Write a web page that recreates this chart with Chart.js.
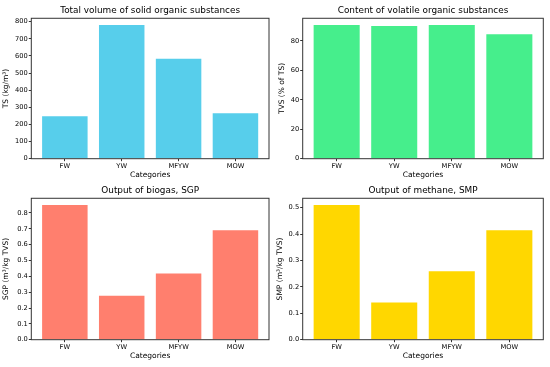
<!DOCTYPE html>
<html>
<head>
<meta charset="utf-8">
<script src="https://cdn.jsdelivr.net/npm/chart.js@4"></script>
<style>
body { margin: 0; background: #fff; }
#wrap { position: relative; width: 550px; height: 367px; overflow: hidden; }
canvas { position: absolute; }
</style>
</head>
<body>
<div id="wrap">
  <canvas id="c1" width="275" height="180" style="left:0;top:0"></canvas>
  <canvas id="c2" width="275" height="180" style="left:275px;top:0"></canvas>
  <canvas id="c3" width="275" height="187" style="left:0;top:180px"></canvas>
  <canvas id="c4" width="275" height="187" style="left:275px;top:180px"></canvas>
</div>
<script>
const categories = ['FW', 'YW', 'MFYW', 'MOW'];
const tsValues = [248, 781, 583, 265];
const tvsValues = [90.8, 90.1, 90.8, 84.5];
const sgpValues = [0.85, 0.277, 0.418, 0.691];
const smpValues = [0.51, 0.141, 0.259, 0.414];

const FONT = 'DejaVu Sans';

// draws the matplotlib style frame around the plot area
const boxPlugin = {
  id: 'box',
  afterDraw(chart) {
    const a = chart.chartArea, ctx = chart.ctx;
    ctx.save();
    ctx.strokeStyle = '#333';
    ctx.lineWidth = 1;
    ctx.strokeRect(a.left, a.top, a.right - a.left, a.bottom - a.top);
    ctx.restore();
  }
};

function makeChart(id, values, color, title, yLabel, step, decimals, geo) {
  new Chart(id, {
    type: 'bar',
    data: {
      datasets: [{
        data: values.map((v, i) => ({ x: i, y: v })),
        backgroundColor: color,
        categoryPercentage: 1,
        barPercentage: 0.8
      }]
    },
    plugins: [boxPlugin],
    options: {
      responsive: false,
      animation: false,
      layout: { padding: { left: 0, right: geo.right, top: 0, bottom: 0 } },
      plugins: {
        legend: { display: false },
        tooltip: { enabled: false },
        title: {
          display: true,
          fullSize: false,
          text: title,
          color: '#000',
          font: { family: FONT, size: 8.9, weight: 'normal' },
          padding: { top: 5, bottom: 2.6 }
        }
      },
      scales: {
        x: {
          type: 'linear',
          offset: false,
          min: -0.59,
          max: 3.59,
          afterBuildTicks: s => { s.ticks = categories.map((c, i) => ({ value: i })); },
          afterFit: s => { s.height = geo.xh; },
          grid: { offset: false, drawOnChartArea: false, tickLength: 2.5, color: '#333' },
          border: { display: false },
          ticks: {
            color: '#000', padding: 1, maxRotation: 0,
            font: { family: FONT, size: 6.7 },
            callback: v => categories[v]
          },
          title: {
            display: true, text: 'Categories', color: '#000',
            font: { family: FONT, size: 7.5 },
            padding: { top: 0, bottom: geo.xpb }
          }
        },
        y: {
          min: 0,
          max: Math.max(...values) * 1.05,
          afterFit: s => { s.width = geo.yw; },
          grid: { drawOnChartArea: false, tickLength: 2.5, color: '#333' },
          border: { display: false },
          ticks: {
            stepSize: step, includeBounds: false, color: '#000', padding: 1,
            font: { family: FONT, size: 6.7 },
            callback: v => v.toFixed(decimals)
          },
          title: {
            display: true, text: yLabel, color: '#000',
            font: { family: FONT, size: 7.5 },
            padding: { top: geo.ypt, bottom: 0 }
          }
        }
      }
    }
  });
}

makeChart('c1', tsValues, '#57CEEB', 'Total volume of solid organic substances', 'TS (kg/m³)', 100, 0,
  { right: 6, yw: 31.3, ypt: 1.2, xh: 21.3, xpb: 0.5 });
makeChart('c2', tvsValues, '#46EE8C', 'Content of volatile organic substances', 'TVS (% of TS)', 20, 0,
  { right: 6.7, yw: 27.7, ypt: 2.8, xh: 21.3, xpb: 0.5 });
makeChart('c3', sgpValues, '#FF7F6E', 'Output of biogas, SGP', 'SGP (m³/kg TVS)', 0.1, 1,
  { right: 6, yw: 31.3, ypt: 1.5, xh: 27.3, xpb: 6.2 });
makeChart('c4', smpValues, '#FFD700', 'Output of methane, SMP', 'SMP (m³/kg TVS)', 0.1, 1,
  { right: 6.7, yw: 27.7, ypt: 0.5, xh: 27.3, xpb: 6.2 });
</script>
</body>
</html>
